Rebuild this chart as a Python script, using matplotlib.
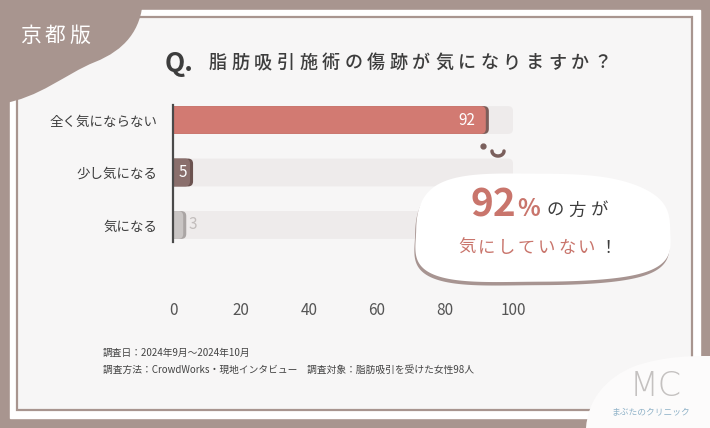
import numpy as np
import matplotlib.pyplot as plt
from matplotlib.patches import FancyBboxPatch, Rectangle, PathPatch, Polygon
from matplotlib.path import Path

plt.rcParams['font.family'] = ['Noto Sans CJK JP', 'DejaVu Sans']

# data
categories = ['全く気にならない', '少し気になる', '気になる']
values = [92, 5, 3]
bar_colors = ['#d27a72', '#8a6f6c', '#c9c5c4']
edge_colors = ['#7b5d59', '#6b524f', '#aaa5a4']
label_colors = ['white', 'white', '#c2bdbc']
x_ticks = [0, 20, 40, 60, 80, 100]
tag = '京都版'
title_q = 'Q.'
title_text = '脂肪吸引施術の傷跡が気になりますか？'
notes = ['調査日：2024年9月～2024年10月',
         '調査方法：CrowdWorks・現地インタビュー　調査対象：脂肪吸引を受けた女性98人']
callout_big = '92'
callout_line1 = 'の方が'
callout_line2 = '気にしていない'

BROWN = '#a8958f'
SALMON = '#c9756c'
DARK = '#3d3d3d'

W, H = 710, 428
fig = plt.figure(figsize=(W / 100, H / 100), dpi=100)
fig.patch.set_facecolor(BROWN)
rend = fig.canvas.get_renderer()


def pixel_axes(z):
    a = fig.add_axes([0, 0, 1, 1], zorder=z)
    a.set_xlim(0, W)
    a.set_ylim(H, 0)
    a.axis('off')
    a.patch.set_alpha(0)
    return a


def spaced(ax, x, y, s, size, gap, **kw):
    # one character at a time, to get the wide letter spacing
    for ch in s:
        t = ax.text(x, y, ch, fontsize=size, ha='left', **kw)
        x += t.get_window_extent(rend).width + gap
    return x


# background frame
bg = pixel_axes(0)
bg.add_patch(Rectangle((10, 10), 690, 408, color='white'))
bg.add_patch(Rectangle((16.5, 16.5), 675.5, 393, facecolor='#f7f6f6',
                       edgecolor=BROWN, lw=1.6))

# top-left tab
tab = Path([(0, 0), (143, 0), (141, 30), (125, 50), (95, 62),
            (65, 74), (40, 98), (0, 104), (0, 0)],
           [Path.MOVETO, Path.LINETO, Path.CURVE4, Path.CURVE4, Path.CURVE4,
            Path.CURVE4, Path.CURVE4, Path.CURVE4, Path.CLOSEPOLY])
bg.add_patch(PathPatch(tab, facecolor=BROWN, edgecolor='none'))
spaced(bg, 20, 36, tag, 15, 4, color='white', va='center')

# title
bg.text(165, 63, title_q, fontsize=19, fontweight='bold', color=DARK,
        va='center', ha='left')
spaced(bg, 209, 63, title_text, 13, 4.6, color=DARK, va='center',
       fontweight='medium')

# little face between the bars
bg.plot([483], [146], 'o', ms=3.5, color='#7a5f5c')
t = np.linspace(0, np.pi, 30)
bg.plot(498 + 6 * np.cos(t), 151 + 5 * np.sin(t), color='#7a5f5c', lw=2.5,
        solid_capstyle='round')

# footnotes
bg.text(103, 353, notes[0], fontsize=7, color='#444444', va='center')
bg.text(103, 370, notes[1], fontsize=7, color='#444444', va='center')

# bar chart
ax = fig.add_axes([173 / W, 1 - 242 / H, 340 / W, 137 / H], zorder=1)
ax.patch.set_alpha(0)
ax.set_xlim(0, 100)
ax.set_ylim(2.324, -0.286)
bh = 0.53
rx = 1.47
asp = 3.4 / 52.5
for i, v in enumerate(values):
    # grey track to 100
    ax.add_patch(FancyBboxPatch((-3, i - bh / 2), 103, bh,
                                boxstyle=f'round,pad=0,rounding_size={rx}',
                                mutation_aspect=asp, facecolor='#eeebeb',
                                edgecolor='none'))
    # darker edge
    ax.add_patch(FancyBboxPatch((-3, i - bh / 2), v + 3.9, bh,
                                boxstyle=f'round,pad=0,rounding_size={rx}',
                                mutation_aspect=asp, facecolor=edge_colors[i],
                                edgecolor='none'))
    ax.add_patch(FancyBboxPatch((-3, i - bh / 2), v + 3, bh,
                                boxstyle=f'round,pad=0,rounding_size={rx}',
                                mutation_aspect=asp, facecolor=bar_colors[i],
                                edgecolor='none'))
    if v > 10:
        ax.text(v - 3, i, str(v), color=label_colors[i], fontsize=11,
                ha='right', va='center')
    elif v >= 5:
        ax.text(v / 2 + 0.5, i, str(v), color=label_colors[i], fontsize=11,
                ha='center', va='center')
    else:
        ax.text(v + 2.8, i, str(v), color=label_colors[i], fontsize=11,
                ha='center', va='center')

ax.set_yticks(range(len(categories)))
ax.set_yticklabels(categories)
ax.set_xticks(x_ticks)
ax.tick_params(axis='y', length=0, pad=11, labelsize=9.7, labelcolor=DARK)
ax.tick_params(axis='x', length=0, pad=43, labelsize=11, labelcolor='#555555')
for s in ['top', 'right', 'bottom']:
    ax.spines[s].set_visible(False)
ax.spines['left'].set_color('#4a4a4a')
ax.spines['left'].set_linewidth(1.6)

# callout bubble
top = pixel_axes(2)
th = np.linspace(0, 2 * np.pi, 300)
c, s_ = np.cos(th), np.sin(th)
wob = 1 + 0.035 * np.sin(3 * th + 0.8)
bx = 540 + 127 * np.sign(c) * np.abs(c) ** 0.6 * wob
by = 229 + 54 * np.sign(s_) * np.abs(s_) ** 0.6 * wob
top.add_patch(Polygon(np.column_stack([bx - 1, by + 3.5]), closed=True,
                      facecolor='#8c7470', edgecolor='none', alpha=0.75))
top.add_patch(Polygon(np.column_stack([bx, by]), closed=True,
                      facecolor='white', edgecolor='none'))
big = top.text(470, 216, callout_big, fontsize=28, fontweight='bold',
               color=SALMON, va='baseline', ha='left')
x = 470 + big.get_window_extent(rend).width + 1
top.text(x, 216, '%', fontsize=17, fontweight='bold', color=SALMON,
         va='baseline', ha='left')
spaced(top, 546, 216, callout_line1, 12.5, 5, color=DARK, va='baseline')
x = spaced(top, 458, 253, callout_line2, 12.5, 2.6, color=SALMON,
           va='baseline')
top.text(x + 2, 253, '！', fontsize=12.5, color=DARK, va='baseline')

# logo corner
logo = Path([(586, 428), (588, 400), (605, 378), (635, 366),
             (665, 356), (690, 356), (710, 356), (710, 428), (586, 428)],
            [Path.MOVETO, Path.CURVE4, Path.CURVE4, Path.CURVE4,
             Path.CURVE4, Path.CURVE4, Path.CURVE4, Path.LINETO,
             Path.CLOSEPOLY])
top.add_patch(PathPatch(logo, facecolor='#fcfbfb', edgecolor='none'))
top.text(656, 386, 'MC', fontsize=24, family=['DejaVu Sans'],
         fontweight='ultralight', color='#c4c1c0', ha='center', va='center')
top.text(651, 412, 'まぶたのクリニック', fontsize=6.3, color='#8fb2c8',
         ha='center', va='center')

fig.savefig('out.png', dpi=100, facecolor=fig.get_facecolor())
